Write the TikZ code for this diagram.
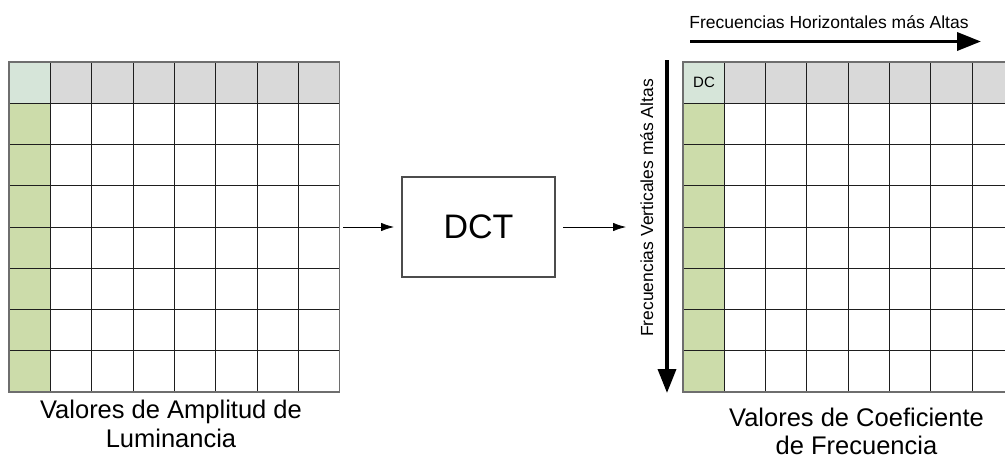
\documentclass[tikz,border=0pt]{standalone}
\usepackage{fontspec}
\setmainfont{Liberation Sans}
\usetikzlibrary{arrows.meta}
\definecolor{dccell}{RGB}{214,229,217}
\definecolor{graycell}{RGB}{217,217,217}
\definecolor{greencell}{RGB}{204,220,170}
\definecolor{gridline}{RGB}{30,30,30}
\definecolor{border}{RGB}{110,110,110}
\tikzset{
  cell/.style={draw=gridline, line width=0.9pt},
  outline/.style={draw=border, line width=1.3pt},
  thinarrow/.style={draw=black, line width=0.8pt, -{Latex[length=13pt,width=8.5pt]}},
  bigarrow/.style={draw=black, line width=3.5pt, -{Triangle[length=24pt,width=18pt]}},
  lbl/.style={font=\fontsize{25.5}{29}\selectfont, align=center, inner sep=0pt},
  small/.style={font=\fontsize{17.5}{20}\selectfont, inner sep=0pt},
}
\begin{document}
\begin{tikzpicture}[x=1pt,y=-1pt]
\useasboundingbox (0,0) rectangle (1005,455);
\clip (0,0) rectangle (1005,455);
\fill[white] (0,0) rectangle (1005,455);
% left grid
\def\cw{41.35}
\foreach \i in {0,...,7}{
  \foreach \j in {0,...,7}{
    \pgfmathsetmacro{\xa}{9+\i*\cw}
    \pgfmathsetmacro{\ya}{62+\j*41.25}
    \ifnum\j=0
      \ifnum\i=0 \def\fc{dccell}\else \def\fc{graycell}\fi
    \else
      \ifnum\i=0 \def\fc{greencell}\else \def\fc{white}\fi
    \fi
    \filldraw[cell, fill=\fc] (\xa,\ya) rectangle ++(\cw,41.25);
  }
}
\draw[outline] (9,62) rectangle (339.8,392);
% right grid
\foreach \i in {0,...,7}{
  \foreach \j in {0,...,7}{
    \pgfmathsetmacro{\xa}{683+\i*41.3}
    \pgfmathsetmacro{\ya}{62+\j*41.25}
    \ifnum\j=0
      \ifnum\i=0 \def\fc{dccell}\else \def\fc{graycell}\fi
    \else
      \ifnum\i=0 \def\fc{greencell}\else \def\fc{white}\fi
    \fi
    \filldraw[cell, fill=\fc] (\xa,\ya) rectangle ++(41.3,41.25);
  }
}
\draw[outline] (683,62) rectangle (1013.4,392);
\node[font=\fontsize{15}{17}\selectfont, inner sep=0pt] (dc) at (704,82.5) {DC};
% DCT box
\node[draw=black!70, line width=1.2pt, minimum width=153pt, minimum height=100pt, inner sep=0pt,
      font=\fontsize{34}{40}\selectfont] (dct) at (478.5,227) {DCT};
\coordinate (a1s) at (343,227);
\coordinate (a1e) at (394,227);
\coordinate (a2s) at (563,227);
\coordinate (a2e) at (626,227);
\draw[thinarrow] (a1s) -- (a1e);
\draw[thinarrow] (a2s) -- (a2e);
% labels
\node[lbl, anchor=base] (l1) at (171,418) {Valores de Amplitud de};
\node[lbl, anchor=base] (l2) at (171,447) {Luminancia};
\node[lbl, anchor=base] (r1) at (856.5,426) {Valores de Coeficiente};
\node[lbl, anchor=base] (r2) at (856.5,454) {de Frecuencia};
% axis arrows
\coordinate (hs) at (690,41.5);
\coordinate (he) at (981,41.5);
\draw[bigarrow] (hs) -- (he);
\node[small, anchor=base] (ht) at (829,28) {Frecuencias Horizontales más Altas};
\coordinate (vs) at (667,60);
\coordinate (ve) at (667,393);
\draw[bigarrow] (vs) -- (ve);
\node[small, anchor=base, rotate=90] (vt) at (653,208) {Frecuencias Verticales más Altas};
\end{tikzpicture}
\end{document}
